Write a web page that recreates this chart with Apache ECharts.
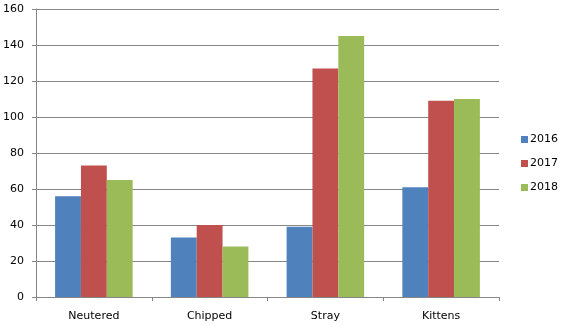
<!DOCTYPE html>
<html><head><meta charset="utf-8">
<script src="https://cdn.jsdelivr.net/npm/echarts@6/dist/echarts.min.js"></script>
<style>html,body{margin:0;padding:0;background:#fff}#c{width:564px;height:325px}</style>
</head><body><div id="c"></div>
<script>
const categories = ["Neutered", "Chipped", "Stray", "Kittens"];
const seriesNames = ["2016", "2017", "2018"];
const v2016 = [56, 33, 39, 61];
const v2017 = [73, 40, 127, 109];
const v2018 = [65, 28, 145, 110];
const colors = ["#4F81BD", "#C0504D", "#9BBB59"];
const values = [v2016, v2017, v2018];
const font = "DejaVu Sans";
const chart = echarts.init(document.getElementById('c'), null, {renderer: 'canvas'});
chart.setOption({
  animation: false,
  grid: {left: 36, right: 65, top: 9, bottom: 28, containLabel: false},
  legend: {
    orient: 'vertical', left: 521, top: 134, padding: 0,
    itemWidth: 7, itemHeight: 7, itemGap: 13,
    icon: 'rect',
    textStyle: {fontFamily: font, fontSize: 11, color: '#000', padding: [0,0,0,-3]},
    data: seriesNames
  },
  xAxis: {
    type: 'category', data: categories,
    axisLine: {lineStyle: {color: '#868686'}},
    axisTick: {show: true, length: 4, lineStyle: {color: '#868686'}},
    axisLabel: {fontFamily: font, fontSize: 11, color: '#000', margin: 14}
  },
  yAxis: {
    type: 'value', min: 0, max: 160, interval: 20,
    axisLine: {show: true, lineStyle: {color: '#868686'}},
    axisTick: {show: true, length: 4, lineStyle: {color: '#868686'}},
    splitLine: {lineStyle: {color: '#868686'}},
    axisLabel: {fontFamily: font, fontSize: 11, color: '#000', margin: 12}
  },
  series: seriesNames.map((n, i) => ({
    name: n, type: 'bar', data: values[i],
    itemStyle: {color: colors[i]},
    barGap: '0%', barCategoryGap: '33%'
  }))
});
</script></body></html>
